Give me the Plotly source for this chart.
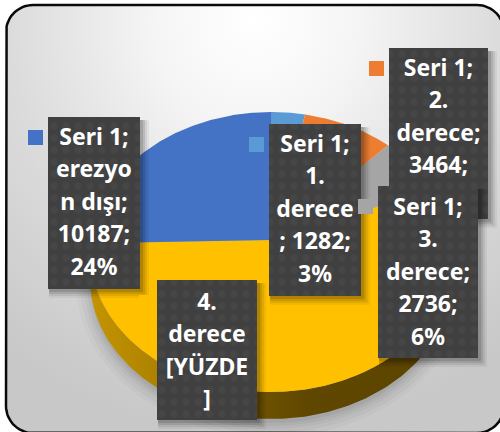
import numpy as np
import plotly.graph_objects as go

# ---- data ----
categories = ["1. derece", "2. derece", "3. derece", "4. derece", "erezyon dışı"]
values = [1282, 3464, 2736, 24777, 10187]
colors = ["#5B9BD5", "#ED7D31", "#A5A5A5", "#FFC000", "#4472C4"]
label_texts = [
    "Seri 1;<br>1.<br>derece<br>; 1282;<br>3%",
    "Seri 1;<br>2.<br>derece;<br>3464;",
    "Seri 1;<br>3.<br>derece;<br>2736;<br>6%",
    "4.<br>derece<br>[YÜZDE<br>]",
    "Seri 1;<br>erezyo<br>n dışı;<br>10187;<br>24%",
]

# ---- layout geometry (pixels) ----
W, H = 500, 432
CX, CY, RX, RY = 271, 252, 181, 140   # ellipse of the pie top face
VX, VY = 271, 240                     # perspective apex of the slices
DEPTH = 27
LINE = 32.5
# box x0,x1,y0,y1 ; key x,y ; centre of first text line
boxes = {
    "erezyon dışı": (48, 140, 117, 289, 28, 130, 139),
    "4. derece": (157, 257, 280, 420, 139, 295, 304),
    "1. derece": (269, 361, 124, 296, 249, 137, 146),
    "2. derece": (389, 488, 48, 219, 369, 61, 70),
    "3. derece": (378, 478, 186, 358, 358, 199, 209),
}
draw_order = ["erezyon dışı", "4. derece", "1. derece", "2. derece", "3. derece"]

fig = go.Figure()


def poly(x, y, **kw):
    fig.add_trace(go.Scatter(x=list(x), y=list(y), mode="lines", fill="toself",
                             line=dict(width=0), hoverinfo="skip", showlegend=False, **kw))


def rrect(x0, x1, y0, y1, r, n=16):
    xs, ys = [], []
    for cx, cy, a0 in [(x1 - r, y0 + r, -90), (x1 - r, y1 - r, 0), (x0 + r, y1 - r, 90), (x0 + r, y0 + r, 180)]:
        t = np.radians(np.linspace(a0, a0 + 90, n))
        xs += list(cx + r * np.cos(t))
        ys += list(cy + r * np.sin(t))
    return xs + xs[:1], ys + ys[:1]


def ell(theta, dy=0):
    """theta clockwise from top, degrees"""
    t = np.radians(theta)
    return CX + RX * np.sin(t), CY - RY * np.cos(t) + dy


# chart background: zero-width spikes move the bounding box centre to the top of the panel
bx, by = rrect(6, 504, 5, 433, 27)
fig.add_trace(go.Scatter(
    x=bx + [255, 255, 255, -150, 660, 255], y=by + [5, -393, 5, 5, 5, 5],
    mode="lines", fill="toself", line=dict(width=0),
    hoverinfo="skip", showlegend=False,
    fillgradient=dict(type="radial",
                      colorscale=[[0, "#ffffff"], [0.25, "#f5f5f5"], [0.6, "#dcdcdc"], [1, "#c8c8c8"]]),
))
fig.add_trace(go.Scatter(x=bx, y=by, mode="lines", line=dict(color="#0a0a0a", width=2.5),
                         hoverinfo="skip", showlegend=False))

# soft shadow under the pie
for grow, alpha in [(14, 0.025), (10, 0.03), (6, 0.035), (3, 0.04), (0, 0.05)]:
    t = np.linspace(0, 360, 181)
    r = np.radians(t)
    poly(CX + (RX + grow) * np.sin(r), CY + DEPTH + 4 - (RY + grow) * np.cos(r),
         fillcolor=f"rgba(0,0,0,{alpha})")

# side wall, shading from gold on the left to dark brown on the right
th = np.linspace(270, 90, 180)
x1, y1 = ell(th)
x2, y2 = ell(th[::-1], DEPTH)
poly(np.r_[x1, x2], np.r_[y1, y2],
     fillgradient=dict(type="horizontal", colorscale=[[0, "#C49400"], [0.25, "#A67C00"], [0.45, "#705400"],
                                                      [0.6, "#5F4700"], [1, "#5C4500"]]))

# top face slices, angles derived from the values
total = sum(values)
start = 0.0
for cat, val, col in zip(categories, values, colors):
    end = start + 360.0 * val / total
    th = np.linspace(start, end, max(int(end - start), 2) * 2)
    x, y = ell(th)
    poly(np.r_[VX, x, VX], np.r_[VY, y, VY], fillcolor=col, name=cat)
    start = end

# data labels
for key in draw_order:
    i = categories.index(key)
    x0, x1, y0, y1, kx, ky, ty = boxes[key]
    for off, alpha in [(9, 0.05), (7, 0.07), (5, 0.1), (3, 0.12)]:
        sx, sy = rrect(x0 + 1, x1 + off, y0 + 3, y1 + off, 1, 2)
        poly(sx, sy, fillcolor=f"rgba(0,0,0,{alpha})")
    poly([x0, x1, x1, x0, x0], [y0, y0, y1, y1, y0], fillcolor="#404040",
         fillpattern=dict(shape=".", bgcolor="#404040", fgcolor="#464646", size=12, solidity=0.3, fillmode="replace"))
    poly([kx, kx + 15, kx + 15, kx, kx], [ky, ky, ky + 15, ky + 15, ky], fillcolor=colors[i])
    lines = label_texts[i].split("<br>")
    fig.add_trace(go.Scatter(
        x=[(x0 + x1) / 2] * len(lines), y=[ty + k * LINE for k in range(len(lines))],
        mode="text", text=lines,
        textposition="middle center", hoverinfo="skip", showlegend=False,
        textfont=dict(family="Noto Sans", size=23, color="#ffffff", weight="bold"),
    ))

fig.update_layout(
    width=W, height=H, margin=dict(l=0, r=0, t=0, b=0), autosize=False,
    paper_bgcolor="#ffffff", plot_bgcolor="#ffffff", showlegend=False,
    xaxis=dict(range=[0, W], visible=False, fixedrange=True),
    yaxis=dict(range=[H, 0], visible=False, fixedrange=True),
)
fig.write_html("out.html", config={"displayModeBar": False},
               post_script="document.body.style.margin='0';")
